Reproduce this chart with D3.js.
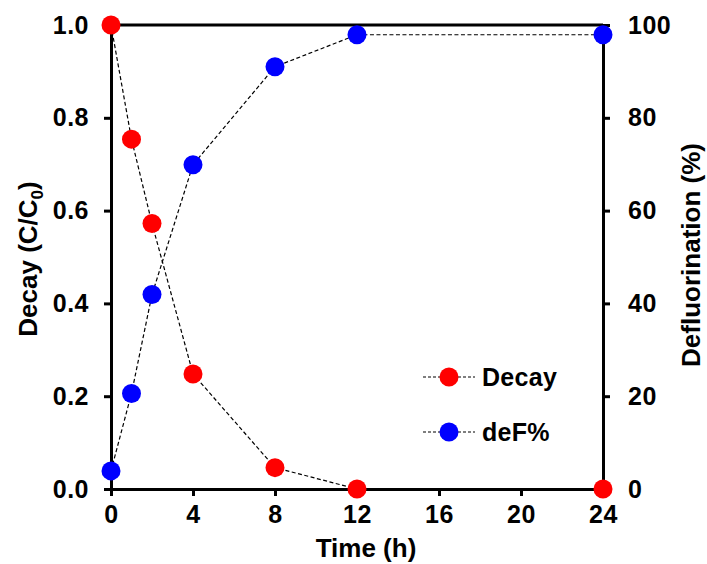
<!DOCTYPE html>
<html>
<head>
<meta charset="utf-8">
<script src="https://cdn.jsdelivr.net/npm/d3@7"></script>
<style>
  html, body { margin: 0; padding: 0; background: #fff; }
  svg { display: block; font-family: Arial, "Liberation Sans", sans-serif; font-weight: bold; }
</style>
</head>
<body>
<svg id="chart" width="707" height="564"></svg>
<script>
// Sampling times (h)
const times = [0, 1, 2, 4, 8, 12, 24];
// Relative concentration C/C0
const decay = [1.0, 0.754, 0.572, 0.248, 0.046, 0.0, 0.0];
// Defluorination (%)
const deF = [3.9, 20.6, 41.9, 69.9, 91.0, 97.9, 97.9];

const xTicks = [0, 4, 8, 12, 16, 20, 24];
const leftTicks = [0.0, 0.2, 0.4, 0.6, 0.8, 1.0];
const rightTicks = [0, 20, 40, 60, 80, 100];

const svg = d3.select("#chart");
const plot = { left: 111, right: 603, top: 25, bottom: 489 };

const x = d3.scaleLinear().domain([0, 24]).range([plot.left, plot.right]);
const yL = d3.scaleLinear().domain([0, 1]).range([plot.bottom, plot.top]);
const yR = d3.scaleLinear().domain([0, 100]).range([plot.bottom, plot.top]);

// Top frame line
svg.append("line")
  .attr("x1", plot.left).attr("x2", plot.right)
  .attr("y1", plot.top).attr("y2", plot.top)
  .attr("stroke", "#000").attr("stroke-width", 3);

function styleAxis(g) {
  g.select(".domain").attr("stroke", "#000").attr("stroke-width", 3);
  g.selectAll(".tick line").attr("stroke", "#000").attr("stroke-width", 3);
  g.selectAll(".tick text").attr("fill", "#000")
    .style("font-size", "25px").style("font-weight", "bold")
    .style("font-family", "Arial, 'Liberation Sans', sans-serif")
    .style("letter-spacing", "0.5px");
}

// Bottom axis
svg.append("g")
  .attr("transform", `translate(0,${plot.bottom})`)
  .call(d3.axisBottom(x).tickValues(xTicks).tickFormat(d3.format("d"))
    .tickSizeInner(7).tickSizeOuter(0).tickPadding(9))
  .call(styleAxis);

// Left axis
svg.append("g")
  .attr("transform", `translate(${plot.left},0)`)
  .call(d3.axisLeft(yL).tickValues(leftTicks).tickFormat(d3.format(".1f"))
    .tickSizeInner(7).tickSizeOuter(0).tickPadding(15))
  .call(styleAxis);

// Right axis
svg.append("g")
  .attr("transform", `translate(${plot.right},0)`)
  .call(d3.axisRight(yR).tickValues(rightTicks).tickFormat(d3.format("d"))
    .tickSizeInner(7).tickSizeOuter(0).tickPadding(18))
  .call(styleAxis);

// Axis titles
svg.append("text")
  .attr("x", 366).attr("y", 557)
  .attr("text-anchor", "middle")
  .style("font-size", "26px")
  .text("Time (h)");

const lt = svg.append("text")
  .attr("transform", `translate(37,${(plot.top + plot.bottom) / 2 + 2}) rotate(-90)`)
  .attr("text-anchor", "middle")
  .style("font-size", "26px");
lt.append("tspan").text("Decay (C/C");
lt.append("tspan").attr("dy", 6).style("font-size", "17px").text("0");
lt.append("tspan").attr("dy", -6).text(")");

svg.append("text")
  .attr("transform", `translate(700,${(plot.top + plot.bottom) / 2 - 2}) rotate(-90)`)
  .attr("text-anchor", "middle")
  .style("font-size", "26px")
  .text("Defluorination (%)");

// Connecting dashed lines
const lineL = d3.line().x((d, i) => x(times[i])).y(d => yL(d));
const lineR = d3.line().x((d, i) => x(times[i])).y(d => yR(d));

svg.append("path").datum(decay)
  .attr("d", lineL).attr("fill", "none")
  .attr("stroke", "#000").attr("stroke-width", 1.2).attr("stroke-dasharray", "4,2.5");
svg.append("path").datum(deF)
  .attr("d", lineR).attr("fill", "none")
  .attr("stroke", "#000").attr("stroke-width", 1.2).attr("stroke-dasharray", "4,2.5");

// Markers
const r = 9.5;
svg.append("g").selectAll("circle").data(deF).join("circle")
  .attr("cx", (d, i) => x(times[i])).attr("cy", d => yR(d))
  .attr("r", r).attr("fill", "#0000ff");
svg.append("g").selectAll("circle").data(decay).join("circle")
  .attr("cx", (d, i) => x(times[i])).attr("cy", d => yL(d))
  .attr("r", r).attr("fill", "#ff0000");

// Legend
const legend = [
  { name: "Decay", color: "#ff0000", y: 377 },
  { name: "deF%", color: "#0000ff", y: 432 }
];
const lg = svg.append("g").selectAll("g").data(legend).join("g")
  .attr("transform", d => `translate(0,${d.y})`);
lg.append("line").attr("x1", 423).attr("x2", 475).attr("y1", 0).attr("y2", 0)
  .attr("stroke", "#000").attr("stroke-width", 1.2).attr("stroke-dasharray", "3,2");
lg.append("circle").attr("cx", 449).attr("cy", 0).attr("r", r).attr("fill", d => d.color);
lg.append("text").attr("x", 482).attr("y", 9)
  .style("font-size", "25px").style("letter-spacing", "0.3px")
  .text(d => d.name);
</script>
</body>
</html>
